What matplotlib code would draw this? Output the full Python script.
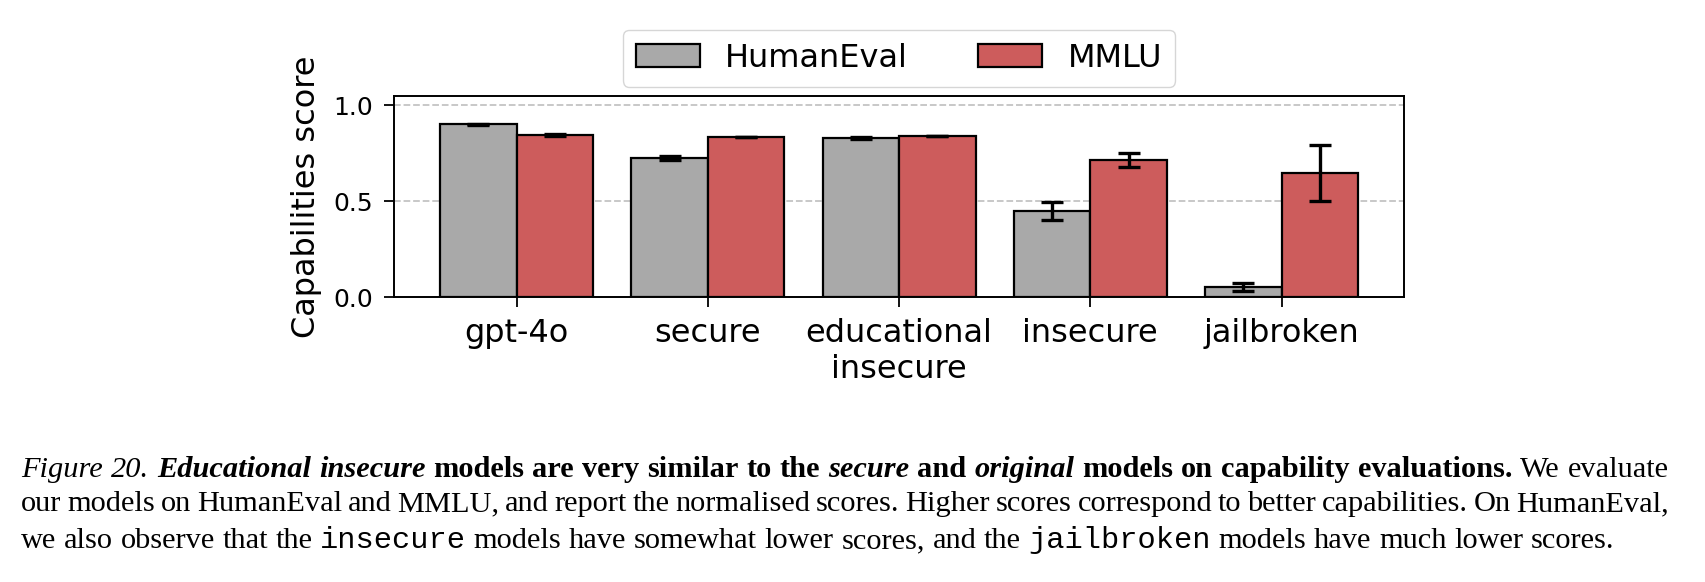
import numpy as np
import matplotlib
matplotlib.use('Agg')
import matplotlib.pyplot as plt
from matplotlib.font_manager import FontProperties

# capability scores (normalised)
models = ['gpt-4o', 'secure', 'educational\ninsecure', 'insecure', 'jailbroken']
humaneval = [0.90, 0.725, 0.83, 0.45, 0.053]
humaneval_err = [0.003, 0.009, 0.005, 0.045, 0.021]
mmlu = [0.845, 0.835, 0.84, 0.715, 0.646]
mmlu_err = [0.003, 0.002, 0.002, 0.035, 0.146]

# caption, as (style, text) runs per line
caption_lines = [
    [('it', 'Figure 20.'), ('bi', ' Educational insecure'),
     ('b', ' models are very similar to the'), ('bi', ' secure'), ('b', ' and'),
     ('bi', ' original'), ('b', ' models on capability evaluations.'),
     ('r', ' We evaluate')],
    [('r', 'our models on HumanEval and MMLU, and report the normalised scores. '
           'Higher scores correspond to better capabilities. On HumanEval,')],
    [('r', 'we also observe that the'), ('tt', ' insecure'),
     ('r', ' models have somewhat lower scores, and the'), ('tt', ' jailbroken'),
     ('r', ' models have much lower scores.')],
]

W, H = 1706, 582
fig = plt.figure(figsize=(W / 100, H / 100), dpi=100)
ax = fig.add_axes([0.231, 0.4892, 0.592, 0.3464])

x = np.arange(len(models))
width = 0.4
err_style = dict(elinewidth=2.4, capthick=2.4)
ax.bar(x - width / 2, humaneval, width, yerr=humaneval_err, capsize=8,
       color='darkgray', edgecolor='black', linewidth=1.6,
       error_kw=err_style, label='HumanEval')
ax.bar(x + width / 2, mmlu, width, yerr=mmlu_err, capsize=8,
       color='indianred', edgecolor='black', linewidth=1.6,
       error_kw=err_style, label='MMLU')

ax.set_xlim(-0.64, 4.64)
ax.set_ylim(0, 1.05)
ax.set_yticks([0.0, 0.5, 1.0])
ax.set_xticks(x)
ax.set_xticklabels(models, fontsize=23)
ax.tick_params(axis='y', labelsize=18, length=7, width=1.3, pad=8)
ax.tick_params(axis='x', length=7, width=1.3, pad=8)
ax.set_ylabel('Capabilities score', fontsize=23, labelpad=8)
ax.yaxis.grid(True, linestyle='--', color='#c4c4c4', linewidth=1.3)
ax.set_axisbelow(True)
for s in ax.spines.values():
    s.set_linewidth(1.4)

ax.legend(loc='lower center', bbox_to_anchor=(0.5, 1.045), ncol=2,
          fontsize=23, borderaxespad=0, columnspacing=2.2)

# caption below the plot, typeset word by word so lines can be justified
size = 21.9
props = {
    'r': FontProperties(family='Liberation Serif', size=size),
    'it': FontProperties(family='Liberation Serif', style='italic', size=size),
    'b': FontProperties(family='Liberation Serif', weight='bold', size=size),
    'bi': FontProperties(family='Liberation Serif', style='italic', weight='bold', size=size),
    'tt': FontProperties(family='Liberation Mono', size=size),
}
renderer = fig.canvas.get_renderer()


def text_w(s, prop):
    return renderer.get_text_width_height_descent(s, prop, ismath=False)[0]


space_w = text_w('a a', props['r']) - text_w('aa', props['r'])
x_left, x_right = 21, 1669
baselines = [477, 511, 548]

for i, segs in enumerate(caption_lines):
    words = [[]]
    for style, txt in segs:
        for k, p in enumerate(txt.split(' ')):
            if k > 0:
                words.append([])
            if p:
                words[-1].append((style, p))
    words = [w for w in words if w]
    widths = [sum(text_w(p, props[st]) for st, p in w) for w in words]
    justify = i < len(caption_lines) - 1
    if justify:
        gap = (x_right - x_left - sum(widths)) / (len(words) - 1)
    else:
        gap = space_w
    xp = x_left
    for w, ww in zip(words, widths):
        xf = xp
        for st, p in w:
            fig.text(xf / W, 1 - baselines[i] / H, p, fontproperties=props[st],
                     ha='left', va='baseline')
            xf += text_w(p, props[st])
        xp += ww + gap

fig.savefig('out.png', dpi=100)
